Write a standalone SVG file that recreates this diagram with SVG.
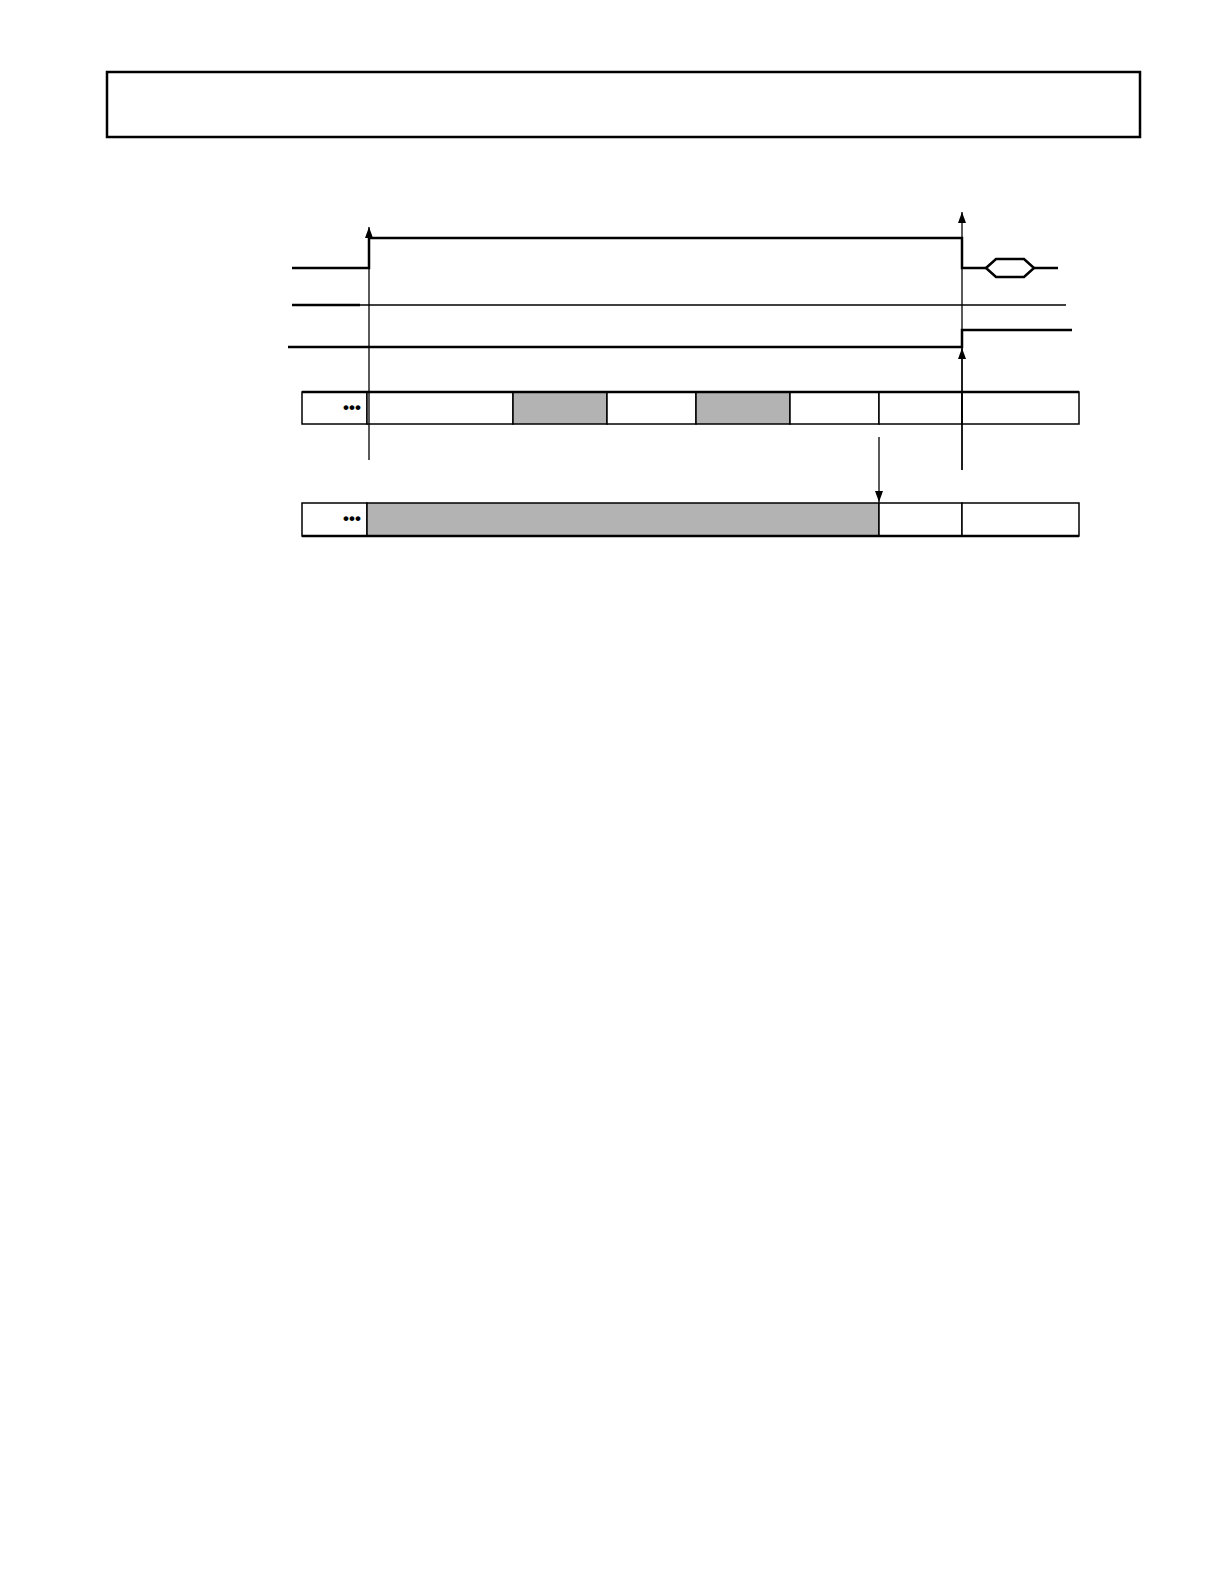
<svg xmlns="http://www.w3.org/2000/svg" width="1224" height="1584" viewBox="0 0 1224 1584">
<style>
.thick{stroke:#000;stroke-width:2.5;fill:none}
.thin{stroke:#000;stroke-width:1.3;fill:none}
.box{stroke:#000;stroke-width:1.5;fill:#fff}
.shade{stroke:#000;stroke-width:1.5;fill:#b3b3b3}
.dots{font-family:"Liberation Sans",Arial,sans-serif;font-size:17px;font-weight:bold;fill:#000}
</style>
<defs>
<marker id="ah" markerWidth="11" markerHeight="8" refX="11" refY="4" orient="auto" markerUnits="userSpaceOnUse" viewBox="0 0 11 8">
<path d="M0,0 L11,4 L0,8 Z" fill="#000"/>
</marker>
</defs>
<rect x="107" y="72" width="1033" height="65" fill="#fff" stroke="#000" stroke-width="2.5"/>
<g id="waveforms">
<path class="thick" d="M292,268 H369 V238 H962 V268 H986"/>
<path class="thick" d="M986,268 L996,259 H1024 L1034,268 L1024,277 H996 Z"/>
<path class="thick" d="M1034,268 H1058"/>
<path class="thick" d="M292,305 H360"/>
<path class="thin" d="M360,305 H1066"/>
<path class="thick" d="M288,347 H962 V330 H1072"/>
</g>
<g id="row1">
<rect class="box" x="302" y="392" width="65" height="32"/>
<text class="dots" x="352" y="413" text-anchor="middle">•••</text>
<rect class="box" x="367" y="392" width="146" height="32"/>
<rect class="shade" x="513" y="392" width="94" height="32"/>
<rect class="box" x="607" y="392" width="89" height="32"/>
<rect class="shade" x="696" y="392" width="94" height="32"/>
<rect class="box" x="790" y="392" width="89" height="32"/>
<rect class="box" x="879" y="392" width="83" height="32"/>
<rect class="box" x="962" y="392" width="117" height="32"/>
<path class="thick" d="M302,392 H1079"/>
</g>
<g id="row2">
<rect class="box" x="302" y="503" width="65" height="33"/>
<text class="dots" x="352" y="524" text-anchor="middle">•••</text>
<rect class="shade" x="367" y="503" width="512" height="33"/>
<rect class="box" x="879" y="503" width="83" height="33"/>
<rect class="box" x="962" y="503" width="117" height="33"/>
<path class="thick" d="M302,536 H1079"/>
</g>
<g id="connectors">
<path class="thin" d="M369,460 V227" marker-end="url(#ah)"/>
<path class="thin" d="M962,470 V212" marker-end="url(#ah)"/>
<path class="thin" d="M962,470 V348" marker-end="url(#ah)"/>
<path class="thin" d="M879,437 V502" marker-end="url(#ah)"/>
</g>
</svg>
